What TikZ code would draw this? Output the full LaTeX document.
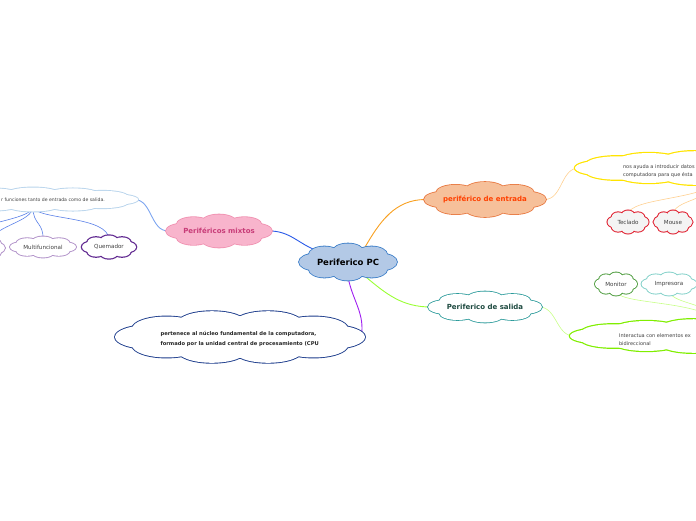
\documentclass[tikz,border=0pt]{standalone}
\usepackage{fontspec}
\setmainfont{DejaVu Sans}
\usetikzlibrary{shapes.geometric}
\pgfdeclarelayer{bg}\pgfsetlayers{bg,main}
\definecolor{pcfill}{HTML}{B3C9E6}
\definecolor{pcdraw}{HTML}{3A7DC8}
\definecolor{mxfill}{HTML}{F8B4CC}
\definecolor{mxdraw}{HTML}{F090B0}
\definecolor{mxtext}{HTML}{C83C78}
\definecolor{enfill}{HTML}{F6C09A}
\definecolor{endraw}{HTML}{E87840}
\definecolor{entext}{HTML}{FF4000}
\definecolor{sadraw}{HTML}{2A9A9A}
\definecolor{satext}{HTML}{1E4A40}
\definecolor{cpudraw}{HTML}{1C3C8C}
\definecolor{mddraw}{HTML}{B8D4EC}
\definecolor{lpurple}{HTML}{B090C8}
\definecolor{dpurple}{HTML}{602890}
\definecolor{red1}{HTML}{E02030}
\definecolor{grn1}{HTML}{4A9A3A}
\definecolor{teal1}{HTML}{80D0C8}
\definecolor{yel}{HTML}{FFE400}
\definecolor{lime}{HTML}{80EE00}
\definecolor{cblue}{HTML}{2A5AE8}
\definecolor{cblue2}{HTML}{7EA6F0}
\definecolor{cblue3}{HTML}{5A80E8}
\definecolor{corange}{HTML}{F8A020}
\definecolor{corange2}{HTML}{FFD090}
\definecolor{cgreen}{HTML}{99FF33}
\definecolor{cgreen2}{HTML}{C8FF88}
\definecolor{cpurple}{HTML}{A020F0}
\definecolor{keyfill}{HTML}{F4F4F4}
\def\cloudparse#1/#2/#3/#4/#5\relax{\def\cX{#1}\def\cY{#2}\def\cW{#3}\def\cH{#4}\def\cN{#5}}
\def\styleparse#1/#2/#3\relax{\def\cD{#1}\def\cF{#2}\def\cL{#3}}
% \cloudy[text options]{name}{x/y/W/H/n}{draw/fill/linewidth}{text}
\newcommand\cloudy[5][]{%
  \cloudparse#3\relax
  \styleparse#4\relax
  \pgfmathsetmacro\cA{(\cW/2)/(1+3.77/\cN)}%
  \pgfmathsetmacro\crx{\cW/2-\cA}%
  \pgfmathsetmacro\cry{0.45*\cH/2}%
  \pgfmathsetmacro\cB{\cH/2-\cry}%
  \pgfmathsetmacro\cLL{2*\cL}%
  \foreach \k in {1,...,\cN}{%
    \pgfmathsetmacro\px{\cX+\cA*cos(360*\k/\cN)}%
    \pgfmathsetmacro\py{\cY+\cB*sin(360*\k/\cN)}%
    \draw[draw=\cD, line width=\cLL pt] (\px,\py) ellipse [x radius=\crx, y radius=\cry];
  }%
  \fill[\cF] (\cX,\cY) ellipse [x radius=\cA, y radius=\cB];
  \foreach \k in {1,...,\cN}{%
    \pgfmathsetmacro\px{\cX+\cA*cos(360*\k/\cN)}%
    \pgfmathsetmacro\py{\cY+\cB*sin(360*\k/\cN)}%
    \fill[\cF] (\px,\py) ellipse [x radius=\crx, y radius=\cry];
  }%
  \node[ellipse, inner sep=0pt, minimum width=\cW-8, minimum height=\cH-8, align=center, #1] (#2) at (\cX,\cY) {#5};
}
\tikzset{
  small/.style={font=\fontsize{5.6}{6.5}\selectfont, text=black!75},
  mid/.style={font=\fontsize{7}{8}\selectfont\bfseries},
  conn/.style={line width=0.9pt},
  thinc/.style={line width=0.6pt}
}
\begin{document}
\begin{tikzpicture}[x=1pt,y=-1pt]
\useasboundingbox (0,0) rectangle (696,520);
\clip (0,0) rectangle (696,520);
% central
\cloudy[font=\fontsize{8.5}{10}\selectfont\bfseries]{pc}{348/262/98/37/8}{pcdraw/pcfill/0.8}{Periferico PC}
% mixtos
\cloudy[mid, text=mxtext]{mx}{219/231/106/33/8}{mxdraw/mxfill/0.8}{Periféricos mixtos}
\cloudy{md}{33/199.5/210/24/12}{mddraw/white/0.9}{}
\node[small, font=\fontsize{4.6}{6}\selectfont, anchor=west, inner sep=0pt] (mdtxt) at (1,200) {r funciones tanto de entrada como de salida.};
\cloudy[small]{mf}{43/247/66/21/8}{lpurple/white/0.9}{Multifuncional}
\cloudy[small]{qm}{109/247/54/23/8}{dpurple/white/1.2}{Quemador}
\cloudy{oxa}{-13/248/36/20/8}{lpurple/white/0.9}{}
\cloudy{oxb}{-60/248/50/20/8}{lpurple/white/0.9}{}
% entrada
\cloudy[mid, text=entext]{en}{485/199.5/122/35/8}{endraw/enfill/0.8}{periférico de entrada}
\cloudy{yd}{720/168/290/34/14}{yel/white/1.2}{}
\node[small, anchor=west, align=left, font=\fontsize{5}{8}\selectfont] (ydtxt) at (619.5,171) {nos ayuda a introducir datos\\computadora para que ésta};
\cloudy[small]{tc}{628/222/41/23/8}{red1/keyfill/1.0}{Teclado}
\cloudy[small]{ms}{673/222/39/23/8}{red1/keyfill/1.0}{Mouse}
% salida
\cloudy[mid, text=satext]{sa}{485/307/114/31/8}{sadraw/white/0.8}{Periferico de salida}
\cloudy{it}{720/336/300/34/14}{lime/white/1.2}{}
\node[small, anchor=west, align=left, font=\fontsize{5}{8}\selectfont] (ittxt) at (615.5,340) {Interactua con elementos ex\\bidireccional};
\cloudy[small]{mo}{616/284/42/23/8}{grn1/white/0.9}{Monitor}
\cloudy[small]{im}{669/284/55/23/8}{teal1/white/0.9}{Impresora}
% cpu
\cloudy{cpu}{240/337/250/53/10}{cpudraw/white/0.9}{}
\node[anchor=west, align=left, font=\fontsize{5.2}{9.5}\selectfont\bfseries, text=black!85] (cputxt) at (157,339) {pertenece al núcleo fundamental de la computadora,\\formado por la unidad central de procesamiento (CPU};
% connectors
\begin{pgfonlayer}{bg}
\draw[conn, cblue] (pc.160) to[out=160,in=0] (mx.east);
\draw[conn, cblue2] (mx.west) to[out=180,in=0] (md.east);
\draw[thinc, cblue3] (md.south) .. controls (33,225) and (44,222) .. (mf.north);
\draw[thinc, cblue3] (md.south) .. controls (40,220) and (108,216) .. (qm.north);
\draw[thinc, cblue3] (md.south) .. controls (30,222) and (0,224) .. (oxa.north);
\draw[thinc, cblue3] (md.south) .. controls (28,220) and (-20,222) .. (oxb.north);
\draw[conn, corange] (pc.40) to[out=60,in=180] (en.west);
\draw[thinc, corange2] (en.east) to[out=0,in=180] (yd.west);
\draw[thinc, corange2] (yd.south) .. controls (700,200) and (630,198) .. (tc.north);
\draw[thinc, corange2] (yd.south) .. controls (705,202) and (675,200) .. (ms.north);
\draw[conn, cgreen] (pc.-40) to[out=-40,in=180] (sa.west);
\draw[thinc, cgreen2] (sa.east) to[out=0,in=180] (it.west);
\draw[thinc, cgreen2] (mo.south) .. controls (622,305) and (700,300) .. (it.north);
\draw[thinc, cgreen2] (im.south) .. controls (675,305) and (710,302) .. (it.north);
\draw[conn, cpurple] (pc.south) to[out=-80,in=80] (cpu.east);
\end{pgfonlayer}
\end{tikzpicture}
\end{document}
